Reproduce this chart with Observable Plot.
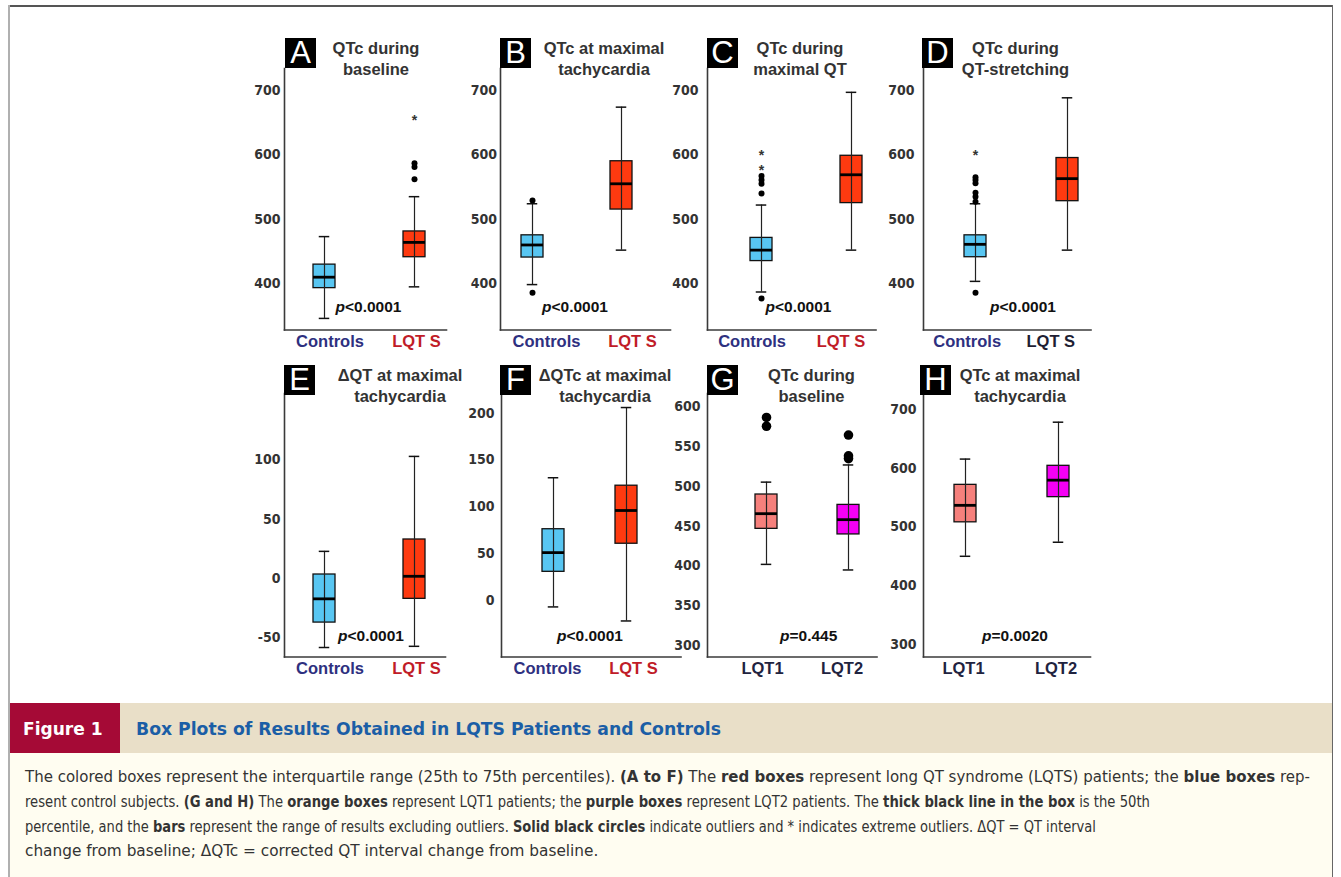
<!DOCTYPE html>
<html><head><meta charset="utf-8">
<script src="https://cdn.jsdelivr.net/npm/d3@7"></script>
<script src="https://cdn.jsdelivr.net/npm/@observablehq/plot@0.6"></script>
<style>
html,body{margin:0;padding:0;background:#fff;}
#fig{position:relative;width:1341px;height:877px;overflow:hidden;font-family:"Liberation Sans",Arial,sans-serif;background:#fff;}
.abs{position:absolute;}
.svgwrap{position:absolute;}
.letter{position:absolute;background:#000;color:#fff;font-size:31px;line-height:30px;text-align:center;font-family:"Liberation Sans",Arial,sans-serif;}
.ptitle{position:absolute;transform:translateX(-50%);text-align:center;white-space:nowrap;font-weight:bold;font-size:16.5px;line-height:21px;color:#333;}
.pval{position:absolute;transform:translate(-50%,-50%);white-space:nowrap;font-weight:bold;font-size:15.5px;color:#111;}
.cap{position:absolute;white-space:nowrap;transform-origin:0 50%;}
.capline{font-family:"Liberation Sans Narrow","DejaVu Sans Condensed",sans-serif;font-size:15.5px;color:#333;}
</style></head><body><div id="fig"></div>
<script>
// ---------------- DATA ----------------
const panelIds = ["A","B","C","D","E","F","G","H"];
const titles = [
  ["QTc during","baseline"],["QTc at maximal","tachycardia"],["QTc during","maximal QT"],["QTc during","QT-stretching"],
  ["ΔQT at maximal","tachycardia"],["ΔQTc at maximal","tachycardia"],["QTc during","baseline"],["QTc at maximal","tachycardia"]];
const groups = [["Controls","LQT S"],["Controls","LQT S"],["Controls","LQT S"],["Controls","LQT S"],
  ["Controls","LQT S"],["Controls","LQT S"],["LQT1","LQT2"],["LQT1","LQT2"]];
const yTicks = [[400,500,600,700],[400,500,600,700],[400,500,600,700],[400,500,600,700],
  [-50,0,50,100],[0,50,100,150,200],[300,350,400,450,500,550,600],[300,400,500,600,700]];
const yDomains = [[328,734],[328,734],[328,734],[328,734],[-66,156],[-60.5,221],[286,616],[278,728]];
const whiskerLow  = [[346,395],[398.5,452],[387,452],[403.5,452],[-58,-57],[-7,-22],[402,395],[450,474]];
const q1          = [[393,441],[440.5,515],[435,525],[441,528],[-37,-17],[30.5,60.5],[446.5,439.5],[508,551]];
const median      = [[410,464],[460,555],[452,569],[461,563],[-17,2],[51,96],[465.5,458],[537,580]];
const q3          = [[429.5,481],[475,590],[471,598.5],[475,595],[3.5,33],[76,122.5],[489.5,476.5],[572,604.5]];
const whiskerHigh = [[473,535],[524,674],[522,697],[524,688.5],[23,103],[131,206],[505,526.5],[616,679]];
const outliers = [[[],[587,581,562]],[[529,386],[]],[[567,561,555,540,377],[]],[[565,561,556,541,535,527,386],[]],
  [[],[]],[[],[]],[[586,575],[564,538,534.5]],[[],[]]];
const extremes = [[[],[659]],[[],[]],[[604,581],[]],[[604],[]],[[],[]],[[],[]],[[],[]],[[],[]]];
const pValues = ["p<0.0001","p<0.0001","p<0.0001","p<0.0001","p<0.0001","p<0.0001","p=0.445","p=0.0020"];

// ---------------- STYLE / LAYOUT ----------------
const blue = "#58c6f2", red = "#fe3a10", salmon = "#f6807c", magenta = "#f500f5";
const boxColors = [[blue,red],[blue,red],[blue,red],[blue,red],[blue,red],[blue,red],[salmon,magenta],[salmon,magenta]];
const navy = "#2e3080", dred = "#c01c28", dark = "#1f2340";
const labelColors = [[navy,dred],[navy,dred],[navy,dred],[navy,"#1e1e33"],[navy,dred],[navy,dred],[dark,dark],[dark,dark]];
const layout = [
  {ax:284,  right:446,  top:67.5, bottom:329,   c:[324,414.5],   ldx:[5.5,2],     gap:4,   px:368.5, py:307, tx:376,    lx:285},
  {ax:500,  right:670,  top:67.5, bottom:329,   c:[531.7,621],   ldx:[14,11],     gap:3.5, px:575,   py:307, tx:604,    lx:500},
  {ax:706.5,right:875,  top:67.5, bottom:329,   c:[760.7,851],   ldx:[-9.4,-10.5],gap:9,   px:798.5, py:307, tx:800,    lx:707},
  {ax:922.5,right:1090, top:67.5, bottom:329,   c:[975,1067],    ldx:[-8.3,-16.7],gap:9,   px:1023,  py:307, tx:1015.5, lx:922},
  {ax:284,  right:445,  top:393,  bottom:656.5, c:[324,414.7],   ldx:[5.5,2],     gap:4,   px:371,   py:636, tx:400,    lx:284},
  {ax:500.5,right:680,  top:393,  bottom:656.5, c:[551.8,625.5], ldx:[-6,7],      gap:7,   px:590,   py:636, tx:605,    lx:500},
  {ax:706.5,right:876,  top:393,  bottom:656.5, c:[765,847.5],   ldx:[-4,-6.5],   gap:7,   px:808.7, py:636, tx:811.5,  lx:707},
  {ax:923,  right:1090, top:393,  bottom:656.5, c:[964.7,1058.3],ldx:[-2,-2.5],   gap:7,   px:1015,  py:636, tx:1020,   lx:920}
];

const fig = document.getElementById("fig");
function addDiv(cls, css, html) {
  const d = document.createElement("div");
  d.className = cls;
  Object.assign(d.style, css);
  if (html !== undefined) d.innerHTML = html;
  fig.appendChild(d);
  return d;
}

// outer frame
addDiv("abs", {left:"8px", top:"5px", width:"1325px", height:"1.5px", background:"#555"});
addDiv("abs", {left:"8px", top:"5px", width:"2px", height:"872px", background:"#b0b0b0"});
addDiv("abs", {left:"1332px", top:"5px", width:"1px", height:"872px", background:"#666"});

const bw = 22.5, capW = 11;
panelIds.forEach((id, i) => {
  const L = layout[i];
  const mL = 50, mR = 6, mT = 6, mB = 30;
  const fw = L.right - L.ax, fh = L.bottom - L.top;
  const W = mL + fw + mR, H = mT + fh + mB;
  const c1 = L.c[0] - L.ax + mL, c2 = L.c[1] - L.ax + mL;
  const g = groups[i];
  const rows = g.map((name, j) => ({name, lo: whiskerLow[i][j], q1: q1[i][j], med: median[i][j], q3: q3[i][j], hi: whiskerHigh[i][j]}));
  const outs = g.flatMap((name, j) => outliers[i][j].map(v => ({name, v})));
  const ext = g.flatMap((name, j) => extremes[i][j].map(v => ({name, v})));
  const bigDots = (i === 6);
  const capInset = (bw - capW) / 2;
  const plot = Plot.plot({
    width: W, height: H, marginLeft: mL, marginRight: mR, marginTop: mT, marginBottom: mB,
    style: {background: "transparent", overflow: "visible", fontFamily: "'Liberation Sans', Arial, sans-serif"},
    x: {type: "band", domain: g, range: [c1 - bw/2, c2 + bw/2], paddingInner: 1 - bw/(c2 - c1), paddingOuter: 0, axis: null, label: null},
    y: {domain: yDomains[i], axis: null, label: null},
    color: {domain: g, range: boxColors[i]},
    marks: [
      Plot.frame({anchor: "left", stroke: "#3a3a3a", strokeWidth: 1.6}),
      Plot.frame({anchor: "bottom", stroke: "#3a3a3a", strokeWidth: 1.6}),
      Plot.axisY(yTicks[i], {tickSize: 0, tickPadding: L.gap, fontSize: 14, fontWeight: "bold", label: null,
        tickFormat: d => String(d),
        fontFamily: "'Liberation Sans Narrow', 'DejaVu Sans Condensed', sans-serif", fill: "#333"}),
      ...g.map((name, j) => Plot.axisX([name], {tickSize: 0, tickPadding: 5, dx: L.ldx[j], fontSize: 16.5, label: null,
        fontWeight: "bold", fill: labelColors[i][j]})),
      Plot.barY(rows, {x: "name", y1: "q1", y2: "q3", fill: "name", stroke: "#111", strokeWidth: 1.3}),
      Plot.ruleX(rows, {x: "name", y1: "lo", y2: "hi", stroke: "#222", strokeWidth: 1.2}),
      Plot.tickY(rows, {x: "name", y: "hi", insetLeft: capInset, insetRight: capInset, stroke: "#111", strokeWidth: 1.5}),
      Plot.tickY(rows, {x: "name", y: "lo", insetLeft: capInset, insetRight: capInset, stroke: "#111", strokeWidth: 1.5}),
      Plot.tickY(rows, {x: "name", y: "med", stroke: "#000", strokeWidth: 2.8}),
      Plot.dot(outs, {x: "name", y: "v", r: bigDots ? 4.8 : 3, fill: "#000", stroke: "none"}),
      Plot.text(ext, {x: "name", y: "v", text: () => "*", fontSize: 14, fontWeight: "bold", dy: 3.5, fill: "#333"})
    ]
  });
  const wrap = addDiv("svgwrap", {left: (L.ax - mL) + "px", top: (L.top - mT) + "px"});
  wrap.appendChild(plot);

  // panel letter
  const ly = i < 4 ? 38 : 365;
  addDiv("letter", {left: L.lx + "px", top: ly + "px", width: "31px", height: "30px"}, id);
  // title
  const ty = i < 4 ? 37.5 : 364.5;
  addDiv("ptitle", {left: L.tx + "px", top: ty + "px"}, titles[i].join("<br>"));
  // p value
  const pv = pValues[i];
  addDiv("pval", {left: L.px + "px", top: L.py + "px"}, "<i>" + pv[0] + "</i>" + pv.slice(1));
});

// ---------------- CAPTION ----------------
addDiv("abs", {left:"10px", top:"703px", width:"1322px", height:"50px", background:"#e9dfc8"});
addDiv("abs", {left:"10px", top:"703px", width:"110px", height:"50px", background:"#a50a36"});
addDiv("abs", {left:"10px", top:"753px", width:"1322px", height:"124px", background:"#fffdf1"});
const figLbl = addDiv("cap", {left:"23px", top:"728px", color:"#fff", fontWeight:"bold", fontSize:"18px",
  fontFamily:"'Liberation Sans Narrow','DejaVu Sans Condensed',sans-serif"}, "Figure 1");
const figTitle = addDiv("cap", {left:"136px", top:"728px", color:"#1b5ea6", fontWeight:"bold", fontSize:"18px",
  fontFamily:"'Liberation Sans Narrow','DejaVu Sans Condensed',sans-serif"}, "Box Plots of Results Obtained in LQTS Patients and Controls");
const lines = [
  "The colored boxes represent the interquartile range (25th to 75th percentiles). <b>(A to F)</b> The <b>red boxes</b> represent long QT syndrome (LQTS) patients; the <b>blue boxes</b> rep-",
  "resent control subjects. <b>(G and H)</b> The <b>orange boxes</b> represent LQT1 patients; the <b>purple boxes</b> represent LQT2 patients. The <b>thick black line in the box</b> is the 50th",
  "percentile, and the <b>bars</b> represent the range of results excluding outliers. <b>Solid black circles</b> indicate outliers and * indicates extreme outliers. ΔQT = QT interval",
  "change from baseline; ΔQTc = corrected QT interval change from baseline."
];
const lineY = [777, 802, 826.5, 851];
const lineW = [1285, 1125, 1071, 573];
const capEls = lines.map((t, k) => addDiv("cap capline", {left:"25px", top: lineY[k] + "px"}, t));
function place(el, cy, s) {
  const h = el.offsetHeight;
  el.style.top = (cy - h/2) + "px";
  el.style.transform = "scaleX(" + s + ")";
}
capEls.forEach((el, k) => place(el, lineY[k], lineW[k] / el.offsetWidth));
place(figLbl, 728, 80 / figLbl.offsetWidth);
place(figTitle, 728, 585 / figTitle.offsetWidth);
</script></body></html>
